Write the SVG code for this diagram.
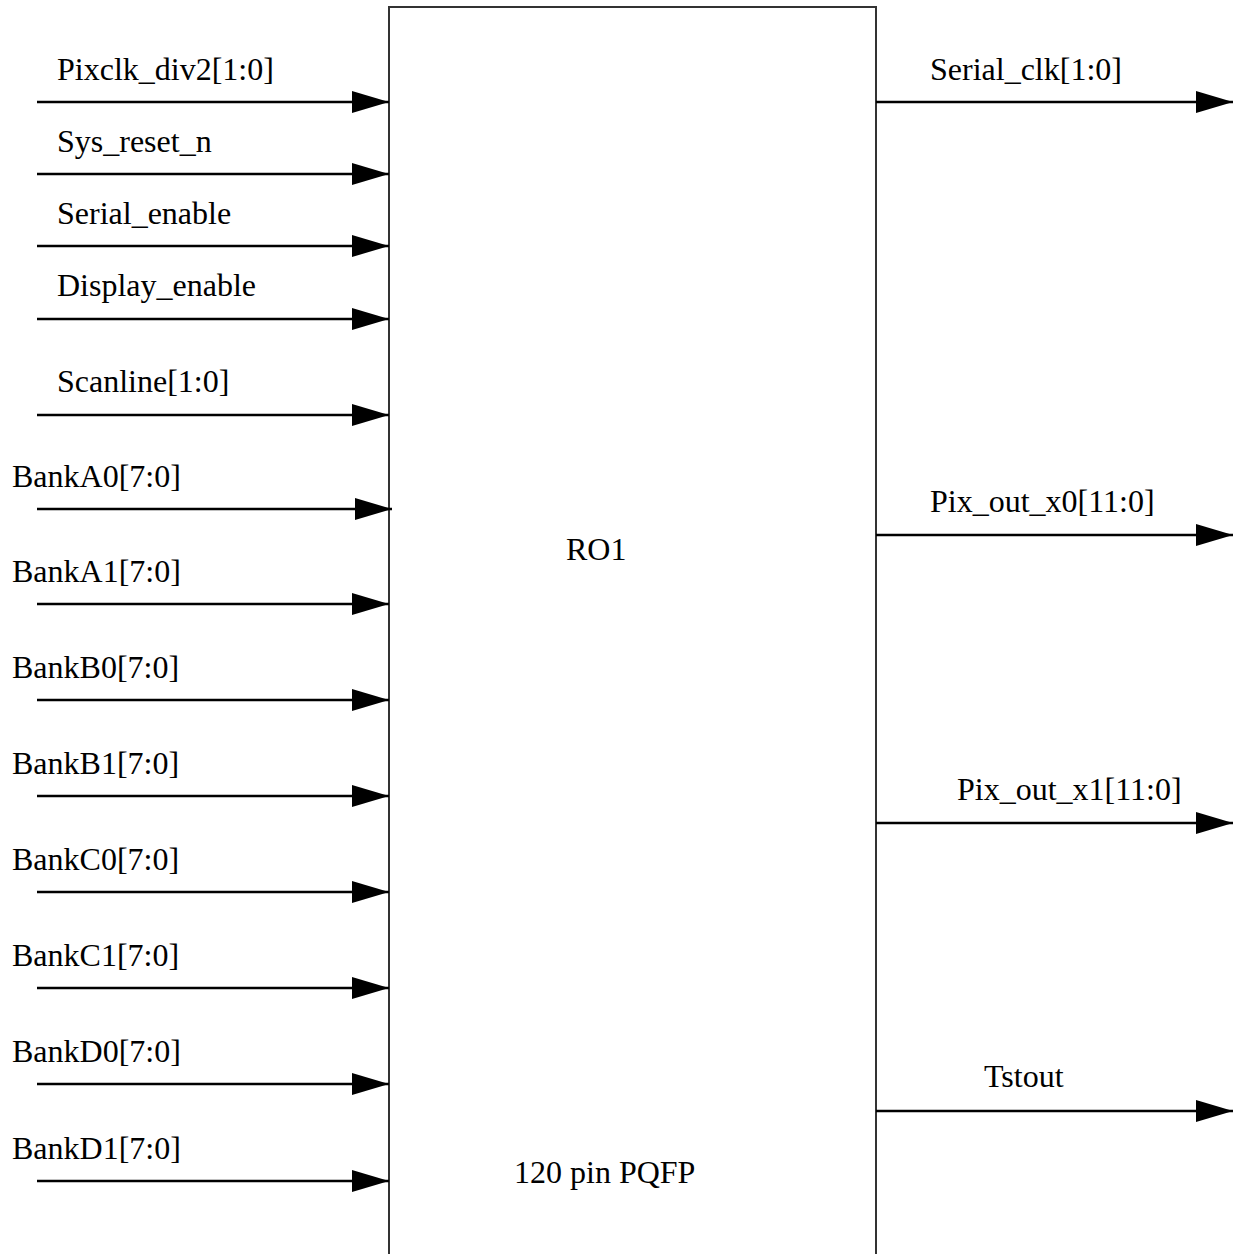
<svg xmlns="http://www.w3.org/2000/svg" width="1235" height="1254" viewBox="0 0 1235 1254">
<style>
text{font-family:"Liberation Serif","Times New Roman",serif;font-size:32px;fill:#000}
.w{stroke:#000;stroke-width:2.5;fill:none}
.box{fill:#fff;stroke:#333;stroke-width:2}
</style>
<defs>
<marker id="ah" markerUnits="userSpaceOnUse" markerWidth="38" markerHeight="24" refX="37" refY="11" orient="auto" overflow="visible">
<path d="M0,0 L37,11 L0,22 Z" fill="#000"/>
</marker>
</defs>
<rect width="1235" height="1254" fill="#fff"/>
<g id="RO1">
<rect class="box" x="389" y="7" width="487" height="1260"/>
<text x="566" y="560">RO1</text>
<text x="514" y="1183">120 pin PQFP</text>
</g>
<g id="connectors">
<line class="w" x1="37" y1="102" x2="389" y2="102" marker-end="url(#ah)"/>
<line class="w" x1="37" y1="174" x2="389" y2="174" marker-end="url(#ah)"/>
<line class="w" x1="37" y1="246" x2="389" y2="246" marker-end="url(#ah)"/>
<line class="w" x1="37" y1="319" x2="389" y2="319" marker-end="url(#ah)"/>
<line class="w" x1="37" y1="415" x2="389" y2="415" marker-end="url(#ah)"/>
<line class="w" x1="37" y1="509" x2="392" y2="509" marker-end="url(#ah)"/>
<line class="w" x1="37" y1="604" x2="389" y2="604" marker-end="url(#ah)"/>
<line class="w" x1="37" y1="700" x2="389" y2="700" marker-end="url(#ah)"/>
<line class="w" x1="37" y1="796" x2="389" y2="796" marker-end="url(#ah)"/>
<line class="w" x1="37" y1="892" x2="389" y2="892" marker-end="url(#ah)"/>
<line class="w" x1="37" y1="988" x2="389" y2="988" marker-end="url(#ah)"/>
<line class="w" x1="37" y1="1084" x2="389" y2="1084" marker-end="url(#ah)"/>
<line class="w" x1="37" y1="1181" x2="389" y2="1181" marker-end="url(#ah)"/>
<line class="w" x1="876" y1="102" x2="1233" y2="102" marker-end="url(#ah)"/>
<line class="w" x1="876" y1="535" x2="1233" y2="535" marker-end="url(#ah)"/>
<line class="w" x1="876" y1="823" x2="1233" y2="823" marker-end="url(#ah)"/>
<line class="w" x1="876" y1="1111" x2="1233" y2="1111" marker-end="url(#ah)"/>
</g>
<g id="labels">
<text x="57" y="80">Pixclk_div2[1:0]</text>
<text x="57" y="152">Sys_reset_n</text>
<text x="57" y="224">Serial_enable</text>
<text x="57" y="296">Display_enable</text>
<text x="57" y="392">Scanline[1:0]</text>
<text x="12" y="487">BankA0[7:0]</text>
<text x="12" y="582">BankA1[7:0]</text>
<text x="12" y="678">BankB0[7:0]</text>
<text x="12" y="774">BankB1[7:0]</text>
<text x="12" y="870">BankC0[7:0]</text>
<text x="12" y="966">BankC1[7:0]</text>
<text x="12" y="1062">BankD0[7:0]</text>
<text x="12" y="1159">BankD1[7:0]</text>
<text x="930" y="80">Serial_clk[1:0]</text>
<text x="930" y="512">Pix_out_x0[11:0]</text>
<text x="957" y="800">Pix_out_x1[11:0]</text>
<text x="984" y="1087">Tstout</text>
</g>
</svg>
